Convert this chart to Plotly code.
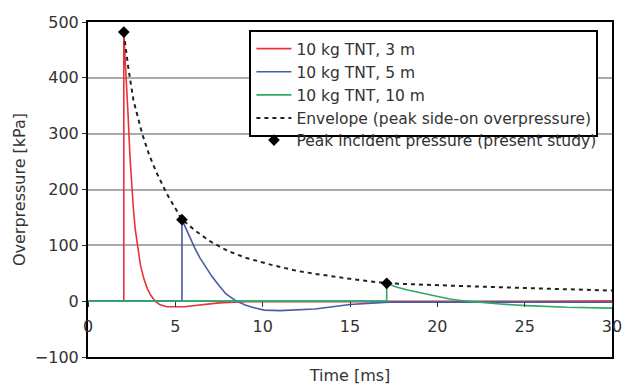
import plotly.graph_objects as go

# ---- data ----
t_red = [0, 2.05, 2.05, 2.2, 2.3, 2.4, 2.5, 2.6, 2.7, 2.85, 3.0, 3.2, 3.4, 3.6, 3.85, 4.1, 4.5, 5.5, 6.5, 7.5, 9.0, 15.0, 17.0, 20.0, 25.0, 30.0]
p_red = [0, 0, 480, 400, 330, 260, 205, 165, 130, 95, 65, 40, 22, 10, 0, -6, -10, -10, -6, -3, -1, -1, -1, -2, -1, 0]

t_blue = [0, 5.38, 5.38, 5.6, 5.8, 6.1, 6.4, 6.8, 7.1, 7.5, 7.9, 8.45, 9.0, 9.4, 10.1, 11.0, 12.0, 13.0, 14.0, 15.0, 16.0, 17.2, 20.0, 25.0, 30.0]
p_blue = [0, 0, 146, 130, 115, 96, 78, 58, 44, 28, 13, 1, -7, -11, -16, -17, -16, -14, -10, -6, -4, -2, -2, -2, -2]

t_green = [0, 17.1, 17.1, 17.6, 18.3, 18.9, 19.8, 20.7, 21.7, 22.6, 23.6, 25.1, 27.4, 30.0]
p_green = [0, 0, 32, 26, 20, 16, 9, 4, 0, -3, -5, -8, -11, -12.5]

t_env = [2.05, 2.3, 2.6, 3.1, 3.5, 3.9, 4.5, 5.38, 6.2, 7.0, 8.0, 9.0, 10.5, 12.0, 13.0, 15.0, 17.1, 19.0, 21.0, 24.5, 27.0, 30.0]
p_env = [480, 420, 360, 300, 262, 232, 193, 146, 125, 107, 90, 78, 65, 54, 49, 40, 32, 29.5, 27.5, 24, 21.5, 19]

t_peak = [2.05, 5.38, 17.1]
p_peak = [482, 146, 32]

names = ["10 kg TNT, 3 m", "10 kg TNT, 5 m", "10 kg TNT, 10 m",
         "Envelope (peak side-on overpressure)", "Peak incident pressure (present study)"]
x_ticks = [0, 5, 10, 15, 20, 25, 30]
y_ticks = [-100, 0, 100, 200, 300, 400, 500]

FONT = "DejaVu Sans, sans-serif"
TXT = "#333333"
FS = 16
LFS = 15.5

fig = go.Figure()
fig.add_trace(go.Scatter(x=t_red, y=p_red, mode="lines", name=names[0],
                         line=dict(color="#e8323c", width=1.6)))
fig.add_trace(go.Scatter(x=t_blue, y=p_blue, mode="lines", name=names[1],
                         line=dict(color="#4b5aa6", width=1.6)))
fig.add_trace(go.Scatter(x=t_green, y=p_green, mode="lines", name=names[2],
                         line=dict(color="#2fa86a", width=1.6)))
fig.add_trace(go.Scatter(x=t_env, y=p_env, mode="lines", name=names[3],
                         line=dict(color="#222222", width=2, dash="4px,4px")))
fig.add_trace(go.Scatter(x=t_peak, y=p_peak, mode="markers", name=names[4],
                         marker=dict(color="black", size=9, symbol="diamond"),
                         legend="legend2"))
# helper trace for the zero-line x axis
fig.add_trace(go.Scatter(x=[None], y=[None], xaxis="x2", showlegend=False, hoverinfo="skip"))

fig.update_layout(
    width=623, height=387,
    margin=dict(l=88, r=11, t=22, b=30),
    paper_bgcolor="white", plot_bgcolor="white",
    font=dict(family=FONT, size=FS, color=TXT),
    xaxis=dict(range=[0, 30], showticklabels=False, ticks="", showgrid=False, automargin=False,
               zeroline=False, showline=True, linecolor="black", linewidth=2, mirror=True,
               title=dict(text="Time [ms]", font=dict(size=FS, color=TXT), standoff=12)),
    xaxis2=dict(range=[0, 30], overlaying="x", anchor="free", position=1/6, automargin=False,
                tickvals=x_ticks, ticktext=[str(v) for v in x_ticks],
                ticks="outside", ticklen=5, tickwidth=1, tickcolor="#333",
                showline=False, showgrid=False, zeroline=False,
                ticklabelstandoff=6, ticklabeloverflow="allow",
                tickfont=dict(size=FS, color=TXT)),
    yaxis=dict(range=[-100, 500], tickvals=y_ticks, ticks="outside", ticklen=4, automargin=False,
               tickcolor="#333", showgrid=True, gridcolor="#aaaaaa", gridwidth=1.5,
               zeroline=False, showline=True, linecolor="black", linewidth=2, mirror=True,
               tickfont=dict(size=FS, color=TXT),
               title=dict(text="Overpressure [kPa]", font=dict(size=FS, color=TXT), standoff=5)),
    legend=dict(x=0.308, y=0.976, xanchor="left", yanchor="top",
                bgcolor="white", bordercolor="black", borderwidth=2,
                font=dict(size=LFS, color=TXT), tracegroupgap=0, itemwidth=35),
    legend2=dict(x=0.312, y=0.697, xanchor="left", yanchor="top",
                 bgcolor="rgba(0,0,0,0)", borderwidth=0, itemwidth=35,
                 font=dict(size=LFS, color=TXT)),
)

fig.write_html("out.html")
